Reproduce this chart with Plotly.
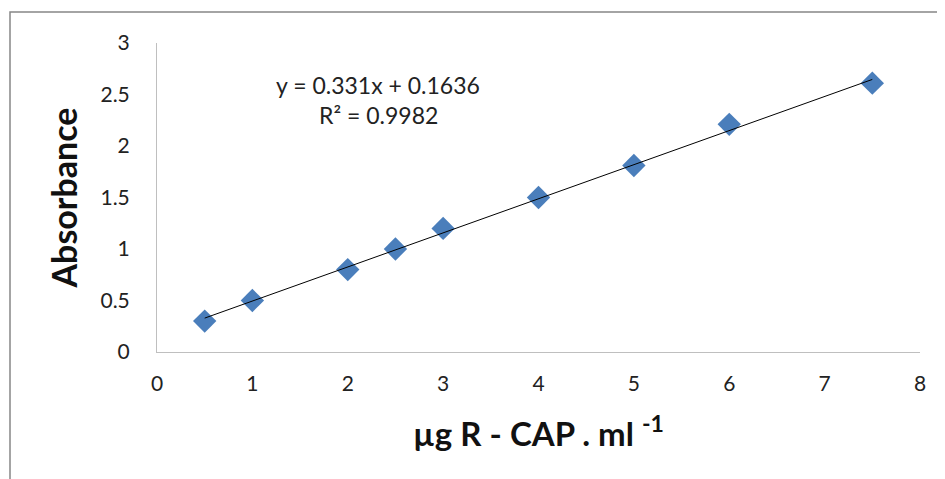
import plotly.graph_objects as go

conc = [0.5, 1, 2, 2.5, 3, 4, 5, 6, 7.5]
absorb = [0.30, 0.50, 0.80, 1.00, 1.20, 1.50, 1.81, 2.21, 2.61]
slope = 0.331
intercept = 0.1636
r2 = 0.9982
x_ticks = [0, 1, 2, 3, 4, 5, 6, 7, 8]
y_ticks = [0, 0.5, 1, 1.5, 2, 2.5, 3]

FONT = "Lato"

fit_x = [min(conc), max(conc)]
fit_y = [slope * v + intercept for v in fit_x]

fig = go.Figure()
fig.add_trace(go.Scatter(
    x=conc, y=absorb, mode="markers",
    marker=dict(symbol="diamond", size=18, color="#4A7EBB",
                line=dict(width=0)),
    showlegend=False))
fig.add_trace(go.Scatter(
    x=fit_x, y=fit_y, mode="lines",
    line=dict(color="#000000", width=1),
    showlegend=False))

fig.add_annotation(x=2.32, y=2.59, xref="x", yref="y",
                   text=f"y = {slope}x + {intercept}", showarrow=False,
                   font=dict(family=FONT, size=23, color="#222"))
fig.add_annotation(x=2.32, y=2.30, xref="x", yref="y",
                   text=f"R² = {r2}", showarrow=False,
                   font=dict(family=FONT, size=23, color="#222"))

# outer chart frame (plot area: 149..912 x 35..344 in figure px)
fig.add_shape(type="rect", xref="paper", yref="paper",
              x0=(2 - 149) / 763, x1=1.2, y0=-0.6, y1=(344 - 4) / 309,
              line=dict(color="#878787", width=1.5), layer="below")

fig.update_layout(
    width=945, height=479,
    margin=dict(l=149, r=33, t=35, b=135),
    paper_bgcolor="white", plot_bgcolor="white",
    font=dict(family=FONT, size=21, color="#222"),
    xaxis=dict(range=[0, 8], tickvals=x_ticks, showgrid=False, zeroline=False,
               showline=True, linecolor="#BFBFBF", linewidth=1,
               ticks="", ticklabelstandoff=13,
               tickfont=dict(family=FONT, size=21, color="#222"),
               title=dict(text="<b>µg R - CAP . ml <sup>-1</sup></b>",
                          font=dict(family=FONT, size=33, color="#111"),
                          standoff=28)),
    yaxis=dict(range=[0, 3], tickvals=y_ticks, showgrid=False, zeroline=False,
               showline=True, linecolor="#BFBFBF", linewidth=1,
               ticks="", ticklabelstandoff=22,
               tickfont=dict(family=FONT, size=21, color="#222"),
               title=dict(text="<b>Absorbance</b>",
                          font=dict(family=FONT, size=34, color="#111"),
                          standoff=12)),
)

fig.write_html("out.html")
